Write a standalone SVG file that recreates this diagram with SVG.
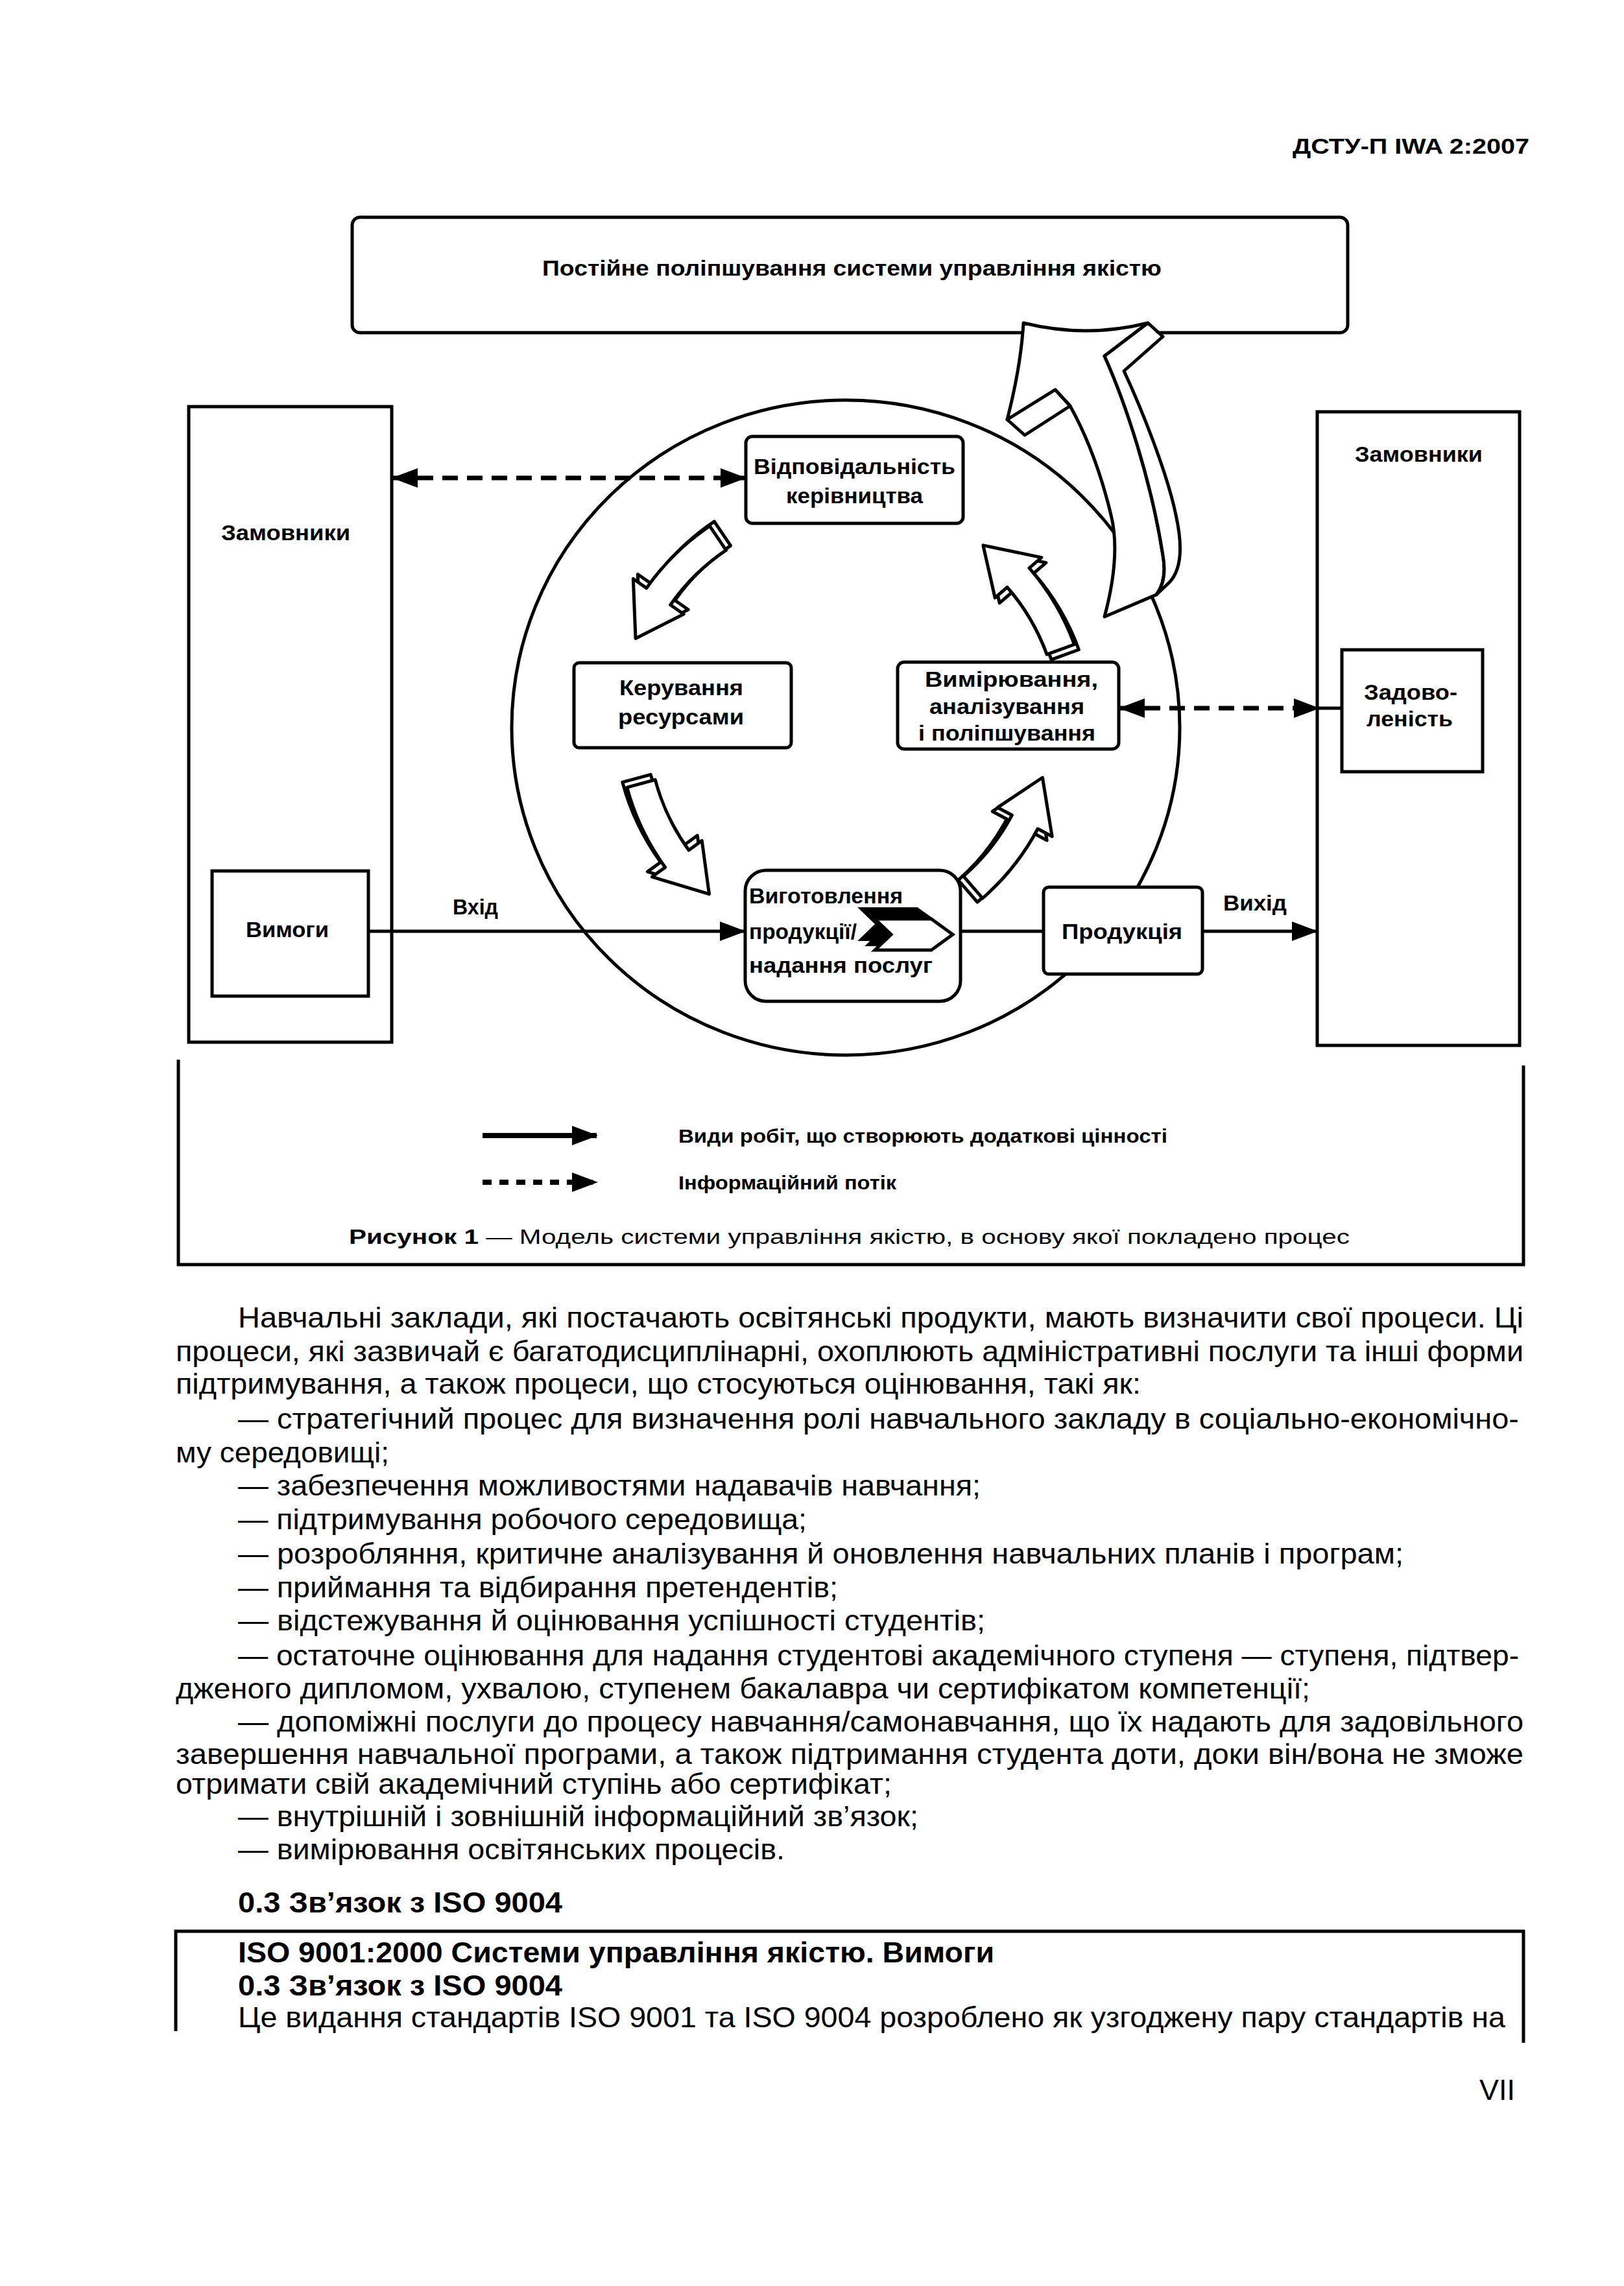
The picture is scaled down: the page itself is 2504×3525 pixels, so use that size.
<svg xmlns="http://www.w3.org/2000/svg" xmlns:xlink="http://www.w3.org/1999/xlink" width="2504" height="3525" viewBox="0 0 2504 3525">
<style>
.bx{fill:#fff;stroke:#000;stroke-width:5}
.ln{fill:none;stroke:#000;stroke-width:5}
.ds{fill:none;stroke:#000;stroke-width:7;stroke-dasharray:24 14}
.lb{font-family:'Liberation Sans',Arial,sans-serif;font-weight:bold;font-size:34px;fill:#000}
.lg{font-family:'Liberation Sans',Arial,sans-serif;font-weight:bold;font-size:29px;fill:#000}
.cp{font-family:'Liberation Sans',Arial,sans-serif;font-size:31px;fill:#000}
.tx{font-family:'Liberation Sans',Arial,sans-serif;font-size:45px;fill:#000}
.th{font-family:'Liberation Sans',Arial,sans-serif;font-size:45px;font-weight:bold;fill:#000}
.ar{fill:#fff;stroke:#000;stroke-width:5;stroke-linejoin:round}
</style>
<defs>
<marker id="ah" viewBox="0 0 40 30" refX="38" refY="15" markerWidth="40" markerHeight="30" markerUnits="userSpaceOnUse" orient="auto-start-reverse">
<path d="M0,0 L40,15 L0,30 Z" fill="#000"/>
</marker>
<path id="arc" d="M330,0 L375,0 A375,375 0 0 0 350.09,-134.39 L373.43,-143.35 L295.21,-191.71 L284.74,-109.3 L308.08,-118.26 A330,330 0 0 1 330,0 Z"/>
<path id="chev" d="M0,0 L87,0 L120,24 L87,48 L0,48 L25,24 Z"/>
</defs>
<rect width="2504" height="3525" fill="#fff"/>

<text class="lb" x="1993" y="237" font-size="35" textLength="365" lengthAdjust="spacingAndGlyphs">ДСТУ-П IWA 2:2007</text>

<g id="top-box">
<rect class="bx" x="543" y="335" width="1535" height="178" rx="12" stroke-width="6"/>
<text class="lb" x="836" y="425" font-size="32" textLength="955" lengthAdjust="spacingAndGlyphs">Постійне поліпшування системи управління якістю</text>
</g>

<g id="customers-left">
<rect class="bx" x="291" y="627" width="313" height="980"/>
<text class="lb" x="341" y="833" textLength="199" lengthAdjust="spacingAndGlyphs">Замовники</text>
</g>
<g id="requirements">
<rect class="bx" x="327" y="1343" width="241" height="193"/>
<text class="lb" x="379" y="1445" textLength="128" lengthAdjust="spacingAndGlyphs">Вимоги</text>
</g>

<g id="customers-right">
<rect class="bx" x="2031" y="635" width="312" height="977"/>
<text class="lb" x="2089" y="712" textLength="197" lengthAdjust="spacingAndGlyphs">Замовники</text>
</g>
<g id="satisfaction">
<rect class="bx" x="2069" y="1002" width="217" height="188"/>
<text class="lb" x="2103" y="1079" textLength="144" lengthAdjust="spacingAndGlyphs">Задово-</text>
<text class="lb" x="2107" y="1120" textLength="133" lengthAdjust="spacingAndGlyphs">леність</text>
</g>

<g id="process-circle">
<ellipse cx="1304" cy="1122" rx="515" ry="505" class="ln"/>
</g>

<g id="cycle-arrows">
<g transform="translate(1311,1115) rotate(236)"><use xlink:href="#arc" class="ar"/></g>
<g transform="translate(1304,1122) rotate(236)"><use xlink:href="#arc" class="ar"/></g>
<g transform="translate(1322,1109) rotate(165)"><use xlink:href="#arc" class="ar"/></g>
<g transform="translate(1329,1117) rotate(165)"><use xlink:href="#arc" class="ar"/></g>
<g transform="translate(1311,1130) rotate(340)"><use xlink:href="#arc" class="ar"/></g>
<g transform="translate(1304,1122) rotate(340)"><use xlink:href="#arc" class="ar"/></g>
<g transform="translate(1261,1108) rotate(49)"><use xlink:href="#arc" class="ar"/></g>
<g transform="translate(1269,1102) rotate(49)"><use xlink:href="#arc" class="ar"/></g>
</g>

<g id="improvement-arrow">
<path class="ar" d="M1578,498 Q1675,522 1770,498 L1703,549 C1735,620 1775,740 1793,856 Q1800,895 1783,917 L1703,951 C1722,880 1722,830 1713,794 C1700,740 1680,680 1650,626 L1627,601 L1553,647 C1565,600 1575,550 1578,498 Z"/>
<path class="ar" d="M1770,498 L1793,519 L1733,572 C1760,630 1800,730 1813,794 Q1830,870 1803,898 L1783,917 Q1800,895 1793,856 C1775,740 1735,620 1703,549 Z"/>
<path class="ar" d="M1553,647 L1580,671 L1650,626 L1627,601 Z"/>
</g>

<g id="management">
<rect class="bx" x="1150" y="673" width="335" height="134" rx="10"/>
<text class="lb" x="1162" y="731" textLength="311" lengthAdjust="spacingAndGlyphs">Відповідальність</text>
<text class="lb" x="1212" y="776" textLength="211" lengthAdjust="spacingAndGlyphs">керівництва</text>
</g>
<g id="resources">
<rect class="bx" x="885" y="1022" width="335" height="131" rx="8"/>
<text class="lb" x="955" y="1072" textLength="191" lengthAdjust="spacingAndGlyphs">Керування</text>
<text class="lb" x="953" y="1117" textLength="194" lengthAdjust="spacingAndGlyphs">ресурсами</text>
</g>
<g id="measurement">
<rect class="bx" x="1384" y="1021" width="341" height="134" rx="10"/>
<text class="lb" x="1426" y="1059" textLength="267" lengthAdjust="spacingAndGlyphs">Вимірювання,</text>
<text class="lb" x="1433" y="1101" textLength="239" lengthAdjust="spacingAndGlyphs">аналізування</text>
<text class="lb" x="1416" y="1142" textLength="273" lengthAdjust="spacingAndGlyphs">і поліпшування</text>
</g>
<g id="realization">
<rect class="bx" x="1149" y="1342" width="332" height="202" rx="32"/>
<text class="lb" x="1155" y="1393" textLength="237" lengthAdjust="spacingAndGlyphs">Виготовлення</text>
<text class="lb" x="1155" y="1448" textLength="166" lengthAdjust="spacingAndGlyphs">продукції/</text>
<text class="lb" x="1155" y="1500" textLength="283" lengthAdjust="spacingAndGlyphs">надання послуг</text>
<use xlink:href="#chev" x="1327" y="1401" fill="#000" stroke="#000" stroke-width="4"/>
<use xlink:href="#chev" x="1338" y="1409" fill="#000" stroke="#000" stroke-width="4"/>
<use xlink:href="#chev" x="1349" y="1417" fill="#fff" stroke="#000" stroke-width="5"/>
</g>
<g id="product">
<rect class="bx" x="1609" y="1368" width="245" height="134" rx="8"/>
<text class="lb" x="1637" y="1448" textLength="186" lengthAdjust="spacingAndGlyphs">Продукція</text>
</g>

<g id="connectors">
<line class="ds" x1="606" y1="737" x2="1149" y2="737" marker-start="url(#ah)" marker-end="url(#ah)"/>
<line class="ds" x1="1727" y1="1092" x2="2033" y2="1092" marker-start="url(#ah)" marker-end="url(#ah)"/>
<line class="ln" x1="2033" y1="1092" x2="2069" y2="1092"/>
<line class="ln" x1="568" y1="1436" x2="1148" y2="1436" marker-end="url(#ah)"/>
<text class="lb" x="698" y="1410" textLength="70" lengthAdjust="spacingAndGlyphs">Вхід</text>
<line class="ln" x1="1481" y1="1436" x2="1609" y2="1436"/>
<line class="ln" x1="1854" y1="1436" x2="2030" y2="1436" marker-end="url(#ah)"/>
<text class="lb" x="1886" y="1404" textLength="98" lengthAdjust="spacingAndGlyphs">Вихід</text>
</g>

<g id="legend">
<path class="ln" d="M275,1634 V1950 H2349 V1643"/>
<line x1="744" y1="1751" x2="920" y2="1751" stroke="#000" stroke-width="8" marker-end="url(#ah)"/>
<text class="lg" x="1046" y="1762" textLength="754" lengthAdjust="spacingAndGlyphs">Види робіт, що створюють додаткові цінності</text>
<line x1="744" y1="1823" x2="920" y2="1823" stroke="#000" stroke-width="8" stroke-dasharray="14 12" marker-end="url(#ah)"/>
<text class="lg" x="1046" y="1834" textLength="336" lengthAdjust="spacingAndGlyphs">Інформаційний потік</text>
<text class="cp" x="538" y="1918" textLength="1543" lengthAdjust="spacingAndGlyphs"><tspan font-weight="bold">Рисунок 1</tspan> — Модель системи управління якістю, в основу якої покладено процес</text>
</g>

<g id="body-text">
<text class="tx" x="367" y="2047" textLength="1982" lengthAdjust="spacingAndGlyphs">Навчальні заклади, які постачають освітянські продукти, мають визначити свої процеси. Ці</text>
<text class="tx" x="271" y="2099" textLength="2078" lengthAdjust="spacingAndGlyphs">процеси, які зазвичай є багатодисциплінарні, охоплюють адміністративні послуги та інші форми</text>
<text class="tx" x="271" y="2149" textLength="1488" lengthAdjust="spacingAndGlyphs">підтримування, а також процеси, що стосуються оцінювання, такі як:</text>
<text class="tx" x="367" y="2203" textLength="1975" lengthAdjust="spacingAndGlyphs">— стратегічний процес для визначення ролі навчального закладу в соціально-економічно-</text>
<text class="tx" x="271" y="2255" textLength="329" lengthAdjust="spacingAndGlyphs">му середовищі;</text>
<text class="tx" x="367" y="2306" textLength="1145" lengthAdjust="spacingAndGlyphs">— забезпечення можливостями надавачів навчання;</text>
<text class="tx" x="367" y="2358" textLength="877" lengthAdjust="spacingAndGlyphs">— підтримування робочого середовища;</text>
<text class="tx" x="367" y="2411" textLength="1797" lengthAdjust="spacingAndGlyphs">— розробляння, критичне аналізування й оновлення навчальних планів і програм;</text>
<text class="tx" x="367" y="2463" textLength="925" lengthAdjust="spacingAndGlyphs">— приймання та відбирання претендентів;</text>
<text class="tx" x="367" y="2514" textLength="1152" lengthAdjust="spacingAndGlyphs">— відстежування й оцінювання успішності студентів;</text>
<text class="tx" x="367" y="2568" textLength="1975" lengthAdjust="spacingAndGlyphs">— остаточне оцінювання для надання студентові академічного ступеня — ступеня, підтвер-</text>
<text class="tx" x="271" y="2619" textLength="1749" lengthAdjust="spacingAndGlyphs">дженого дипломом, ухвалою, ступенем бакалавра чи сертифікатом компетенції;</text>
<text class="tx" x="367" y="2670" textLength="1982" lengthAdjust="spacingAndGlyphs">— допоміжні послуги до процесу навчання/самонавчання, що їх надають для задовільного</text>
<text class="tx" x="271" y="2720" textLength="2078" lengthAdjust="spacingAndGlyphs">завершення навчальної програми, а також підтримання студента доти, доки він/вона не зможе</text>
<text class="tx" x="271" y="2766" textLength="1104" lengthAdjust="spacingAndGlyphs">отримати свій академічний ступінь або сертифікат;</text>
<text class="tx" x="367" y="2816" textLength="1049" lengthAdjust="spacingAndGlyphs">— внутрішній і зовнішній інформаційний зв’язок;</text>
<text class="tx" x="367" y="2867" textLength="843" lengthAdjust="spacingAndGlyphs">— вимірювання освітянських процесів.</text>
<text class="th" x="367" y="2949" textLength="500" lengthAdjust="spacingAndGlyphs">0.3 Зв’язок з ISO 9004</text>
</g>

<g id="quote-box">
<path class="ln" d="M271,3132 V2978 H2349 V3150"/>
<text class="th" x="367" y="3026" textLength="1166" lengthAdjust="spacingAndGlyphs">ISO 9001:2000 Системи управління якістю. Вимоги</text>
<text class="th" x="367" y="3077" textLength="500" lengthAdjust="spacingAndGlyphs">0.3 Зв’язок з ISO 9004</text>
<text class="tx" x="367" y="3126" textLength="1954" lengthAdjust="spacingAndGlyphs">Це видання стандартів ISO 9001 та ISO 9004 розроблено як узгоджену пару стандартів на</text>
</g>

<text class="tx" x="2336" y="3238" text-anchor="end">VII</text>
</svg>
